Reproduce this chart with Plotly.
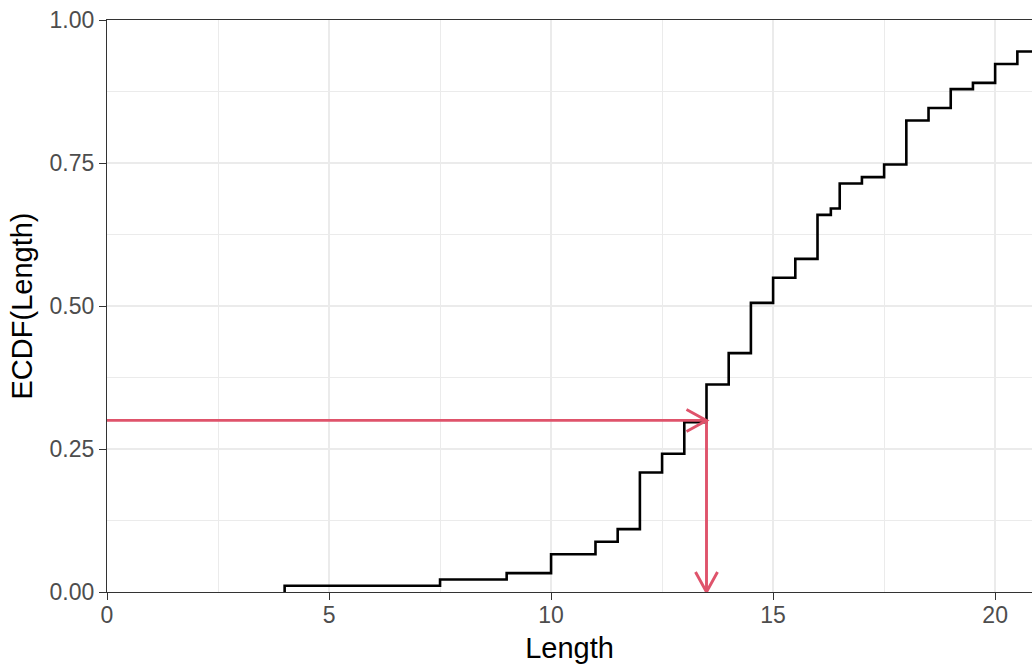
import plotly.graph_objects as go

# ---- data ----
n_obs = 91
lengths = [4, 7.5, 9, 10, 11, 11.5, 12, 12.5, 13, 13.5, 14, 14.5, 15, 15.5,
           16, 16.3, 16.5, 17, 17.5, 18, 18.5, 19, 19.5, 20, 20.5]
cum_counts = [1, 2, 3, 6, 8, 10, 19, 22, 27, 33, 38, 46, 50, 53,
              60, 61, 65, 66, 68, 75, 77, 80, 81, 84, 86]
prob = 0.30
quantile = 13.5
x_ticks = [0, 5, 10, 15, 20]
y_ticks = [0.0, 0.25, 0.50, 0.75, 1.00]
y_ticklabels = ["0.00", "0.25", "0.50", "0.75", "1.00"]

x_max = 20.83
ecdf = [c / n_obs for c in cum_counts]
xs = [lengths[0]] + lengths + [x_max]
ys = [0.0] + ecdf + [ecdf[-1]]

red = "#DF536B"
fig = go.Figure()
fig.add_trace(go.Scatter(x=xs, y=ys, mode="lines", line=dict(color="black", width=2.6, shape="hv"),
                         hoverinfo="skip", showlegend=False))

# arrows: shafts
fig.add_shape(type="line", x0=0, y0=prob, x1=quantile, y1=prob, xref="x", yref="y",
              line=dict(color=red, width=2.9))
fig.add_shape(type="line", x0=quantile, y0=prob, x1=quantile, y1=0, xref="x", yref="y",
              line=dict(color=red, width=2.9))
# arrow heads (open chevrons, pixel sized)
L, H = 20, 11
fig.add_shape(type="path", xref="x", yref="y", xsizemode="pixel", ysizemode="pixel",
              xanchor=quantile, yanchor=prob,
              path=f"M{-L},{H} L0,0 L{-L},{-H}", line=dict(color=red, width=2.9))
fig.add_shape(type="path", xref="x", yref="y", xsizemode="pixel", ysizemode="pixel",
              xanchor=quantile, yanchor=0,
              path=f"M{-H},{L} L0,0 L{H},{L}", line=dict(color=red, width=2.9))

font = "Liberation Sans, Arial, sans-serif"
fig.update_layout(
    width=1032, height=664,
    margin=dict(l=107, r=0, t=20, b=72),
    plot_bgcolor="white", paper_bgcolor="white",
    font=dict(family=font),
    xaxis=dict(range=[0, x_max], tickvals=x_ticks, ticks="outside", ticklen=7, tickwidth=1.3,
               tickcolor="#333333", showline=True, linecolor="#333333", linewidth=1.3, mirror=True,
               showgrid=True, gridcolor="#EBEBEB", gridwidth=2.1, zeroline=False,
               minor=dict(dtick=2.5, tick0=0, showgrid=True, gridcolor="#EBEBEB", gridwidth=1.1),
               tickfont=dict(size=23, color="#4D4D4D"), ticklabelstandoff=-5,
               title=dict(text="Length", font=dict(size=29, color="black"), standoff=10)),
    yaxis=dict(range=[0, 1], tickvals=y_ticks, ticktext=y_ticklabels, ticks="outside", ticklen=7,
               tickwidth=1.3, tickcolor="#333333", showline=True, linecolor="#333333", linewidth=1.3,
               mirror=True, showgrid=True, gridcolor="#EBEBEB", gridwidth=2.1, zeroline=False,
               minor=dict(dtick=0.125, tick0=0, showgrid=True, gridcolor="#EBEBEB", gridwidth=1.1),
               tickfont=dict(size=23, color="#4D4D4D"),
               title=dict(text="ECDF(Length)", font=dict(size=29, color="black"), standoff=8)),
)
fig.write_html("out.html")
